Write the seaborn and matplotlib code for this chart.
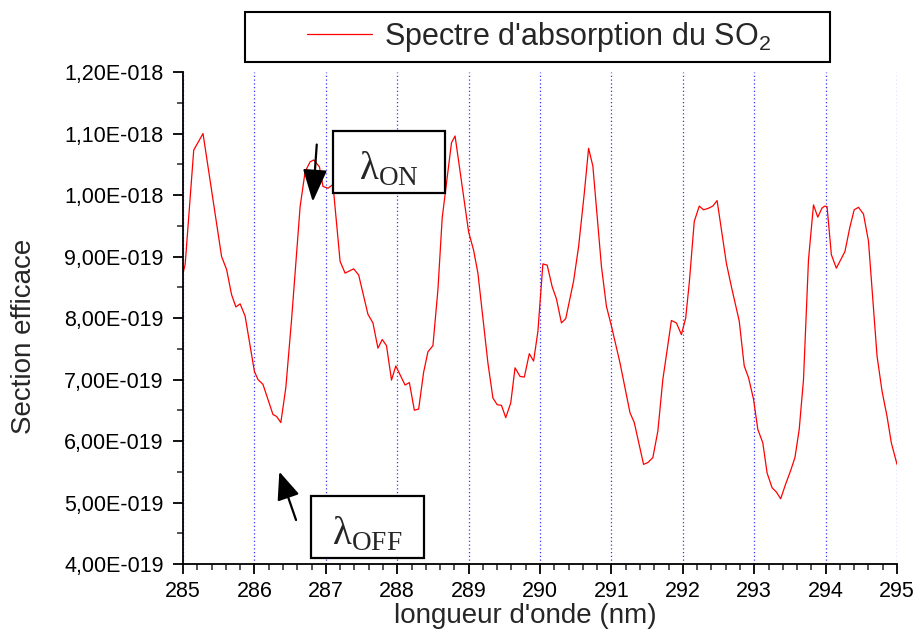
import matplotlib
matplotlib.use("Agg")
import matplotlib.pyplot as plt
from matplotlib.patches import Rectangle
from matplotlib.ticker import MultipleLocator, FuncFormatter
import seaborn as sns

# SO2 absorption spectrum
WAVELENGTH_NM = [
    285.00, 285.03, 285.15, 285.28, 285.42, 285.54, 285.61, 285.68, 285.74, 285.80,
    285.87, 286.00, 286.05, 286.12, 286.26, 286.31, 286.37, 286.44, 286.52, 286.64,
    286.71, 286.78, 286.83, 286.91, 286.96, 287.03, 287.10, 287.20, 287.27, 287.39,
    287.46, 287.59, 287.66, 287.73, 287.79, 287.85, 287.92, 287.98, 288.11, 288.17,
    288.24, 288.30, 288.37, 288.43, 288.50, 288.57, 288.63, 288.76, 288.81, 289.00,
    289.07, 289.13, 289.27, 289.34, 289.40, 289.46, 289.52, 289.59, 289.65, 289.72,
    289.78, 289.85, 289.91, 289.97, 290.04, 290.10, 290.17, 290.23, 290.30, 290.36,
    290.47, 290.54, 290.62, 290.68, 290.74, 290.86, 290.93, 291.00, 291.12, 291.26,
    291.32, 291.45, 291.51, 291.58, 291.65, 291.72, 291.84, 291.91, 291.98, 292.04,
    292.09, 292.16, 292.23, 292.29, 292.35, 292.42, 292.48, 292.61, 292.68, 292.79,
    292.86, 292.92, 292.99, 293.05, 293.12, 293.18, 293.25, 293.31, 293.37, 293.44,
    293.51, 293.57, 293.63, 293.69, 293.76, 293.83, 293.89, 293.95, 293.99, 294.02,
    294.08, 294.15, 294.27, 294.34, 294.40, 294.46, 294.53, 294.60, 294.72, 294.79,
    294.86, 294.92, 295.00,
]
# cross section in units of 1E-19
SIGMA_E19 = [
    8.73, 8.87, 10.73, 11.00, 9.92, 9.00, 8.79, 8.38, 8.18, 8.23,
    8.03, 7.13, 7.00, 6.92, 6.43, 6.40, 6.30, 6.87, 7.97, 9.81,
    10.38, 10.54, 10.57, 10.46, 10.14, 10.11, 10.17, 8.92, 8.73, 8.80,
    8.70, 8.06, 7.92, 7.51, 7.65, 7.55, 6.99, 7.22, 6.91, 6.95,
    6.50, 6.52, 7.12, 7.45, 7.55, 8.46, 9.63, 10.85, 10.96, 9.40,
    9.10, 8.73, 7.27, 6.70, 6.59, 6.58, 6.38, 6.62, 7.19, 7.05,
    7.04, 7.42, 7.30, 7.78, 8.88, 8.86, 8.51, 8.31, 7.92, 7.99,
    8.60, 9.16, 10.03, 10.76, 10.47, 8.84, 8.19, 7.87, 7.27, 6.46,
    6.30, 5.62, 5.65, 5.73, 6.16, 7.00, 7.96, 7.92, 7.73, 8.00,
    8.57, 9.57, 9.82, 9.76, 9.78, 9.82, 9.91, 8.89, 8.51, 7.95,
    7.22, 7.03, 6.68, 6.19, 5.97, 5.48, 5.24, 5.17, 5.06, 5.30,
    5.52, 5.73, 6.19, 7.00, 8.95, 9.84, 9.64, 9.79, 9.82, 9.81,
    9.03, 8.81, 9.08, 9.48, 9.76, 9.80, 9.69, 9.25, 7.38, 6.81,
    6.40, 5.97, 5.62,
]
SIGMA = [v * 1e-19 for v in SIGMA_E19]

SERIES_LABEL = "Spectre d'absorption du SO$_\\mathregular{2}$"
X_LABEL = "longueur d'onde (nm)"
Y_LABEL = "Section efficace"
ON_LABEL = "λ$_\\mathregular{ON}$"
OFF_LABEL = "λ$_\\mathregular{OFF}$"


def sci_fmt(v, pos):
    m, e = f"{v:.2E}".split("E")
    return f"{m.replace('.', ',')}E{int(e):+04d}".replace("+", "")


def main():
    sns.set_style("ticks")
    plt.rcParams["font.family"] = ["Liberation Sans", "DejaVu Sans"]

    fig = plt.figure(figsize=(9.16, 6.34), dpi=100)
    ax = fig.add_axes([0.1998, 0.1104, 0.7795, 0.776])

    sns.lineplot(x=WAVELENGTH_NM, y=SIGMA, color="red", linewidth=0.9,
                 estimator=None, sort=False, label=SERIES_LABEL, ax=ax)

    ax.set_xlim(285, 295)
    ax.set_ylim(4e-19, 1.2e-18)
    ax.xaxis.set_major_locator(MultipleLocator(1))
    ax.xaxis.set_minor_locator(MultipleLocator(0.2))
    ax.yaxis.set_major_locator(MultipleLocator(1e-19))
    ax.yaxis.set_minor_locator(MultipleLocator(0.5e-19))
    ax.yaxis.set_major_formatter(FuncFormatter(sci_fmt))
    ax.xaxis.set_major_formatter(FuncFormatter(lambda v, p: f"{v:.0f}"))

    ax.tick_params(which="major", direction="out", length=7, width=1.3,
                   labelsize=15.5, pad=5, colors="black")
    ax.tick_params(which="minor", direction="out", length=4, width=1.1)
    ax.tick_params(axis="y", pad=7)

    for side in ["top", "right"]:
        ax.spines[side].set_visible(False)
    for side in ["left", "bottom"]:
        ax.spines[side].set_linewidth(1.3)
        ax.spines[side].set_color("black")

    # dotted vertical grid at whole nanometres
    ax.xaxis.grid(True, linestyle=(0, (1, 2)), color="#3333ff", linewidth=0.9)
    gl = ax.get_xgridlines()
    gl[0].set_visible(False)
    gl[-1].set_visible(False)
    ax.set_axisbelow(True)

    ax.set_xlabel(X_LABEL, fontsize=20)
    ax.set_ylabel(Y_LABEL, fontsize=20)
    ax.xaxis.set_label_coords(0.479, -0.080)
    ax.yaxis.set_label_coords(-0.204, 0.463)

    # legend above the plot, with its own frame
    leg = ax.legend(loc="center", bbox_to_anchor=(0.5884, 0.9416),
                    bbox_transform=fig.transFigure, frameon=False,
                    fontsize=22, handlelength=2.15, handletextpad=0.4,
                    borderpad=0)
    leg.get_lines()[0].set_linewidth(0.9)
    fig.patches.append(Rectangle((0.2675, 0.9022), 0.6386, 0.0789,
                                 transform=fig.transFigure, fill=False,
                                 edgecolor="black", linewidth=1.5))

    # lambda ON / OFF boxes and arrows
    for (x0, y0, x1, y1), text in [((0.2096, 0.7547, 0.3673, 0.8807), ON_LABEL),
                                   ((0.1796, 0.0116, 0.3373, 0.1382), OFF_LABEL)]:
        box = Rectangle((x0, y0), x1 - x0, y1 - y0, transform=ax.transAxes,
                        facecolor="white", edgecolor="black", linewidth=1.6,
                        zorder=5, clip_on=False)
        ax.add_patch(box)
        ax.text((x0 + x1) / 2, y1 - 0.040, text, transform=ax.transAxes,
                ha="center", va="top", fontsize=28,
                family=["Liberation Serif", "DejaVu Serif"], zorder=6)

    ax.annotate("", xy=(0.1817, 0.7364), xytext=(0.1873, 0.8526),
                xycoords="axes fraction", textcoords="axes fraction",
                arrowprops=dict(arrowstyle="-|>,head_length=2.0,head_width=0.75",
                                color="black", lw=1.6, mutation_scale=10,
                                shrinkA=0, shrinkB=0))
    ax.annotate("", xy=(0.1349, 0.1876), xytext=(0.1583, 0.0894),
                xycoords="axes fraction", textcoords="axes fraction",
                arrowprops=dict(arrowstyle="-|>,head_length=1.7,head_width=0.7",
                                color="black", lw=1.6, mutation_scale=10,
                                shrinkA=0, shrinkB=0))

    fig.savefig("out.png", dpi=100)


if __name__ == "__main__":
    main()
